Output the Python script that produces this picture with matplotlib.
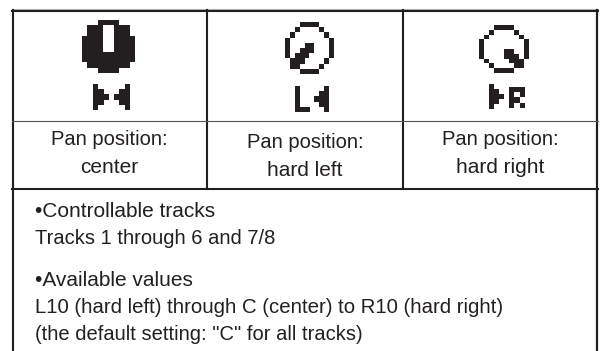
import numpy as np
import matplotlib
matplotlib.use("Agg")
import matplotlib.pyplot as plt
from matplotlib.colors import ListedColormap

W, H = 601, 351
INK = "#231f20"

captions = [["Pan position:", "center"], ["Pan position:", "hard left"], ["Pan position:", "hard right"]]
notes = ['•Controllable tracks', 'Tracks 1 through 6 and 7/8', '•Available values',
         'L10 (hard left) through C (center) to R10 (hard right)',
         '(the default setting: "C" for all tracks)']

knob_center = ["...####...", ".###..###.", ".###..###.", "####..####", "####..####",
               "####..####", "##########", "##########", ".########.", "...####..."]
knob_left = ["...####...", "..#....#..", ".#......#.", "#........#", "#...##...#",
             "#..###...#", "#.###....#", ".###....#.", ".##....#..", "...####..."]
knob_right = ["...####...", "..#....#..", ".#......#.", "#........#", "#........#",
              "#....##..#", "#....###.#", ".#....###.", "..#....##.", "...####..."]

bow_center = ["#.....#", "##...##", "###.###", "##...##", "#.....#"]
bow_left = ["#.....#", "#....##", "#...###", "#....##", "###...#"]
arrow_right = ["#..", "##.", "###", "##.", "#.."]
letter_r = ["###", "#.#", "##.", "#.#"]


def bitmap(rows):
    return np.array([[c == "#" for c in r] for r in rows], dtype=float)


fig = plt.figure(figsize=(W / 100, H / 100), dpi=100)
ax = fig.add_axes([0, 0, 1, 1])
ax.axis("off")

cmap = ListedColormap(["#ffffff", INK])
icons = [(knob_center, (82, 135, 21, 73.5)), (knob_left, (285, 334, 22, 74)), (knob_right, (479, 529, 25, 73)),
         (bow_center, (93, 130, 84, 110)), (bow_left, (295, 329, 86, 112)),
         (arrow_right, (489, 504, 84, 109)), (letter_r, (508.5, 524, 88, 108.5))]
for rows, (x0, x1, y0, y1) in icons:
    ax.imshow(bitmap(rows), cmap=cmap, vmin=0, vmax=1, extent=(x0, x1, y1, y0), interpolation="nearest",
              aspect="auto", zorder=2)
ax.set_xlim(0, W)
ax.set_ylim(H, 0)

# table rules
ax.plot([12, 598], [9.0, 9.0], color="#b5b5b5", lw=0.8, zorder=3)
ax.plot([12, 598], [10.5, 10.5], color=INK, lw=1.5, zorder=3)
ax.plot([12.7, 12.7], [10, 351], color=INK, lw=1.5, zorder=3)
ax.plot([597.3, 597.3], [10, 351], color=INK, lw=1.6, zorder=3)
ax.plot([206.7, 206.7], [10, 189], color=INK, lw=1.5, zorder=3)
ax.plot([403, 403], [10, 189], color=INK, lw=1.5, zorder=3)
ax.plot([12, 598], [120.7, 120.7], color="#555555", lw=0.8, zorder=3)
ax.plot([12, 598], [189, 189], color=INK, lw=1.5, zorder=3)

font = dict(family="Liberation Sans", color=INK)
centers = [109, 305, 500]
base = [(145, 173), (148, 175.5), (145, 173)]
for cap, cx, (b0, b1) in zip(captions, centers, base):
    ax.text(cx, b0, cap[0], ha="center", va="baseline", fontsize=14.5, **font)
    ax.text(cx, b1, cap[1], ha="center", va="baseline", fontsize=15.0, **font)

note_sizes = [15.0, 14.5, 15.0, 14.63, 14.5]
for txt, b, s in zip(notes, [217, 244, 286, 313, 340], note_sizes):
    ax.text(35, b, txt, ha="left", va="baseline", fontsize=s, **font)

fig.savefig("out.png", dpi=100)
